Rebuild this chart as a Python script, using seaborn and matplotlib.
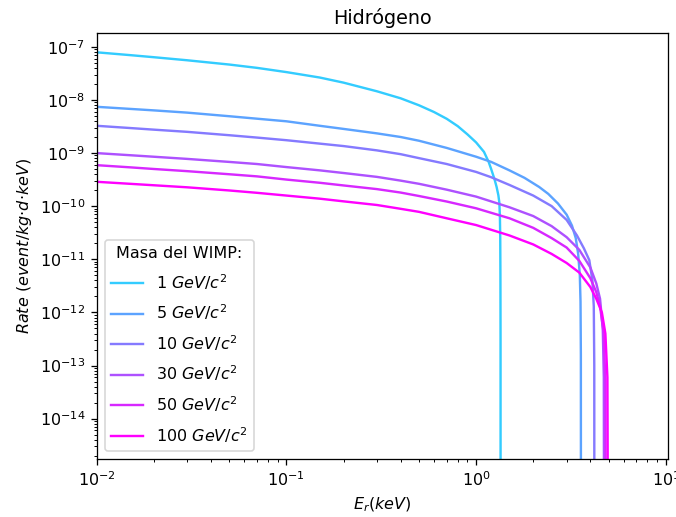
import matplotlib
matplotlib.use("Agg")
import matplotlib.pyplot as plt
import seaborn as sns
import numpy as np
import pandas as pd

# Differential recoil rate on hydrogen for several WIMP masses
masas = [1, 5, 10, 30, 50, 100]
etiquetas = [f"{m} $GeV/c^2$" for m in masas]

E_1 = [0.01, 0.015, 0.02, 0.03, 0.05, 0.07, 0.1, 0.15, 0.2, 0.3, 0.4, 0.5, 0.6, 0.7, 0.8,
       0.9, 1.0, 1.1, 1.164, 1.2, 1.25, 1.282, 1.31, 1.326, 1.335, 1.34, 1.343, 1.345, 1.346]
R_1 = [7.85e-8, 6.95e-8, 6.35e-8, 5.56e-8, 4.62e-8, 4.0e-8, 3.33e-8, 2.63e-8, 2.11e-8,
       1.45e-8, 1.07e-8, 7.9e-9, 5.9e-9, 4.4e-9, 3.2e-9, 2.24e-9, 1.58e-9, 1.05e-9, 6.8e-10,
       5.0e-10, 3.2e-10, 2.3e-10, 1.6e-10, 1.15e-10, 6e-11, 2.5e-11, 5e-12, 3e-13, 1e-18]

E_5 = [0.01, 0.015, 0.02, 0.03, 0.05, 0.07, 0.1, 0.15, 0.2, 0.3, 0.4, 0.5, 0.7, 1.0, 1.2,
       1.5, 1.8, 2.15, 2.4, 2.7, 3.0, 3.2, 3.35, 3.45, 3.52, 3.55, 3.565, 3.57]
R_5 = [7.40e-9, 6.76e-9, 6.34e-9, 5.75e-9, 4.92e-9, 4.42e-9, 3.95e-9, 3.25e-9, 2.84e-9,
       2.34e-9, 2.0e-9, 1.7e-9, 1.245e-9, 8.5e-10, 6.8e-10, 4.7e-10, 3.4e-10, 2.29e-10,
       1.7e-10, 1.12e-10, 6.9e-11, 4.3e-11, 2.5e-11, 1.26e-11, 5e-12, 1.6e-12, 1.6e-13, 1e-18]

E_10 = [0.01, 0.015, 0.02, 0.03, 0.05, 0.07, 0.1, 0.15, 0.2, 0.3, 0.4, 0.5, 0.7, 1.0, 1.2,
        1.5, 2.0, 2.5, 3.0, 3.4, 3.7, 3.95, 4.1, 4.17, 4.195, 4.2]
R_10 = [3.25e-9, 2.95e-9, 2.75e-9, 2.50e-9, 2.16e-9, 1.95e-9, 1.74e-9, 1.50e-9, 1.35e-9,
        1.12e-9, 9.5e-10, 8.0e-10, 6.2e-10, 4.4e-10, 3.5e-10, 2.5e-10, 1.58e-10, 1.0e-10,
        5.5e-11, 2.8e-11, 1.6e-11, 9.6e-12, 4e-12, 1.3e-12, 1e-13, 1e-18]

E_30 = [0.01, 0.015, 0.02, 0.03, 0.05, 0.07, 0.1, 0.15, 0.2, 0.3, 0.4, 0.5, 0.7, 1.0, 1.5,
        2.0, 2.5, 3.0, 3.5, 4.0, 4.3, 4.5, 4.65, 4.71, 4.73]
R_30 = [9.95e-10, 9.08e-10, 8.5e-10, 7.74e-10, 6.79e-10, 6.2e-10, 5.43e-10, 4.71e-10,
        4.2e-10, 3.55e-10, 3.02e-10, 2.63e-10, 2.04e-10, 1.51e-10, 9.5e-11, 6.5e-11, 4.2e-11,
        2.6e-11, 1.5e-11, 7e-12, 3.5e-12, 1.8e-12, 5e-13, 6e-14, 1e-18]

E_50 = [0.01, 0.015, 0.02, 0.03, 0.05, 0.07, 0.1, 0.15, 0.2, 0.3, 0.4, 0.5, 0.7, 1.0, 1.5,
        2.0, 2.5, 3.0, 3.5, 4.0, 4.3, 4.5, 4.7, 4.8, 4.83]
R_50 = [5.9e-10, 5.37e-10, 5.0e-10, 4.55e-10, 3.98e-10, 3.63e-10, 3.16e-10, 2.75e-10,
        2.45e-10, 2.09e-10, 1.80e-10, 1.55e-10, 1.22e-10, 9.1e-11, 5.9e-11, 3.9e-11, 2.5e-11,
        1.66e-11, 9.3e-12, 4.4e-12, 2.4e-12, 1.3e-12, 4e-13, 5e-14, 1e-18]

E_100 = [0.01, 0.015, 0.02, 0.03, 0.05, 0.07, 0.1, 0.15, 0.2, 0.3, 0.4, 0.5, 0.7, 1.0, 1.5,
         2.0, 2.5, 3.0, 3.5, 4.0, 4.3, 4.6, 4.8, 4.92, 4.97]
R_100 = [2.87e-10, 2.63e-10, 2.47e-10, 2.26e-10, 1.97e-10, 1.78e-10, 1.58e-10, 1.38e-10,
         1.23e-10, 1.05e-10, 8.9e-11, 7.8e-11, 5.9e-11, 4.4e-11, 2.8e-11, 1.9e-11, 1.26e-11,
         8.5e-12, 5.6e-12, 3.0e-12, 1.8e-12, 1e-12, 4e-13, 6e-14, 1e-18]

energias = [E_1, E_5, E_10, E_30, E_50, E_100]
tasas = [R_1, R_5, R_10, R_30, R_50, R_100]

df = pd.concat(
    [pd.DataFrame({"E": e, "R": r, "masa": lab}) for e, r, lab in zip(energias, tasas, etiquetas)],
    ignore_index=True,
)

colores = [plt.cm.cool(t) for t in np.linspace(0.2, 1.0, len(masas))]

DPI = 115
fig = plt.figure(figsize=(676 / DPI, 517 / DPI), dpi=DPI)
ax = fig.add_axes([0.143, 0.1122, 0.845, 0.8234])

sns.lineplot(data=df, x="E", y="R", hue="masa", hue_order=etiquetas, palette=colores,
             estimator=None, sort=False, linewidth=1.5, ax=ax)

ax.set_xscale("log")
ax.set_yscale("log")
ax.set_xlim(0.01, 10.25)
ax.set_ylim(1.74e-15, 1.79e-7)
ax.set_title("Hidrógeno")
ax.set_xlabel(r"$E_r(keV)$")
ax.set_ylabel(r"$Rate\ (event/kg{\cdot}d{\cdot}keV)$")

handles, labels = ax.get_legend_handles_labels()
ax.legend(handles, labels, title="Masa del WIMP:", loc="lower left", labelspacing=0.68)

fig.savefig("out.png", dpi=DPI)
